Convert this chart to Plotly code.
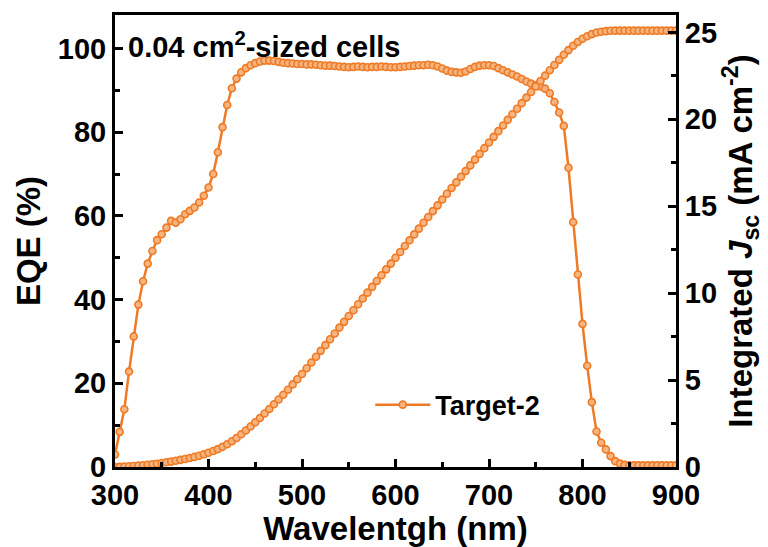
import plotly.graph_objects as go

# Wavelength grid (nm), 5 nm steps from 300 to 900
wavelength = list(range(300, 905, 5))

# External quantum efficiency (%)
eqe = [
    3.0, 8.4, 13.8, 22.8, 31.2, 38.8, 44.4, 48.6, 51.6, 54.2,      # 300-345
    55.6, 57.2, 58.8, 58.4, 59.2, 60.4, 61.2, 62.0, 63.2, 64.8,    # 350-395
    66.8, 70.0, 75.2, 81.2, 86.5, 90.5, 92.8, 94.3, 95.3, 96.0,    # 400-445
    96.5, 96.9, 97.1, 97.1, 97.0, 96.8, 96.6, 96.5, 96.4, 96.3,    # 450-495
    96.3, 96.2, 96.2, 96.1, 96.0, 95.9, 95.9, 95.8, 95.7, 95.6,    # 500-545
    95.5, 95.6, 95.7, 95.6, 95.5, 95.6, 95.6, 95.7, 95.6, 95.5,    # 550-595
    95.5, 95.6, 95.7, 95.8, 95.9, 96.0, 96.0, 96.1, 96.0, 95.7,    # 600-645
    95.2, 94.7, 94.4, 94.3, 94.2, 94.5, 95.1, 95.6, 95.9, 96.0,    # 650-695
    96.0, 95.8, 95.3, 94.8, 94.3, 93.8, 93.3, 92.7, 92.1, 91.6,    # 700-745
    91.2, 90.9, 90.4, 89.3, 87.2, 84.7, 81.5, 71.5, 58.5, 46.0,    # 750-795
    34.2, 24.2, 15.5, 8.5, 5.8, 4.2, 2.6, 1.4, 0.8, 0.5,           # 800-845
    0.4, 0.4, 0.4, 0.4, 0.4, 0.4, 0.4, 0.4, 0.4, 0.4,              # 850-895
    0.4,                                                           # 900
]

# Integrated short-circuit current density (mA cm^-2)
jsc = [
    0.00, 0.01, 0.02, 0.04, 0.06, 0.08, 0.10, 0.13, 0.16, 0.19,
    0.23, 0.27, 0.31, 0.36, 0.41, 0.46, 0.52, 0.58, 0.65, 0.73,
    0.82, 0.92, 1.03, 1.16, 1.31, 1.48, 1.67, 1.88, 2.10, 2.33,
    2.57, 2.82, 3.08, 3.34, 3.61, 3.88, 4.16, 4.44, 4.75, 5.05,
    5.35, 5.68, 6.01, 6.34, 6.68, 7.01, 7.35, 7.68, 8.02, 8.35,
    8.69, 9.02, 9.36, 9.69, 10.03, 10.36, 10.70, 11.03, 11.37, 11.70,
    12.04, 12.37, 12.71, 13.04, 13.38, 13.71, 14.05, 14.38, 14.72, 15.05,
    15.39, 15.72, 16.05, 16.37, 16.70, 17.02, 17.35, 17.68, 18.01, 18.34,
    18.67, 18.99, 19.32, 19.64, 19.97, 20.29, 20.61, 20.93, 21.25, 21.57,
    21.89, 22.20, 22.51, 22.82, 23.12, 23.42, 23.71, 23.98, 24.23, 24.45,
    24.63, 24.78, 24.90, 24.99, 25.04, 25.07, 25.09, 25.10, 25.10, 25.10,
    25.10, 25.10, 25.10, 25.10, 25.10, 25.10, 25.10, 25.10, 25.10, 25.10,
    25.10,
]

series_name = "Target-2"
ORANGE = "#EE7A26"
LIGHT = "#F7B47E"
FONT = "Liberation Sans"

marker = dict(symbol="circle", size=7, color=LIGHT, line=dict(color=ORANGE, width=1.6))

fig = go.Figure()
fig.add_trace(go.Scatter(
    x=wavelength, y=eqe, name=series_name, mode="lines+markers",
    line=dict(color=ORANGE, width=2.5), marker=marker, yaxis="y",
))
fig.add_trace(go.Scatter(
    x=wavelength, y=jsc, name=series_name, mode="lines+markers",
    line=dict(color=ORANGE, width=2.5), marker=marker, yaxis="y2",
    showlegend=False,
))

tickfont = dict(family=FONT, size=29, color="black", weight="bold")
titlefont = dict(family=FONT, size=33, color="black", weight="bold")

fig.update_layout(
    width=768, height=547,
    margin=dict(l=115, r=92, t=15, b=80),
    paper_bgcolor="white", plot_bgcolor="white",
    font=dict(family=FONT, color="black"),
    xaxis=dict(
        range=[300, 900], tickvals=[300, 400, 500, 600, 700, 800, 900],
        showline=True, linecolor="black", linewidth=3, mirror=True,
        ticks="inside", ticklen=8, tickwidth=3, tickcolor="black",
        minor=dict(ticks="inside", ticklen=5, tickwidth=2.5, dtick=50, tickcolor="black"),
        showgrid=False, zeroline=False, tickfont=tickfont,
        title=dict(text="Wavelentgh (nm)", font=titlefont, standoff=2),
    ),
    yaxis=dict(
        range=[0, 108], tickvals=[0, 20, 40, 60, 80, 100],
        showline=True, linecolor="black", linewidth=3,
        ticks="inside", ticklen=8, tickwidth=3, tickcolor="black",
        minor=dict(ticks="inside", ticklen=5, tickwidth=2.5, dtick=10, tickcolor="black"),
        showgrid=False, zeroline=False, tickfont=tickfont,
        title=dict(text="EQE (%)", font=titlefont, standoff=8),
    ),
    yaxis2=dict(
        range=[0, 26], tickvals=[0, 5, 10, 15, 20, 25],
        overlaying="y", side="right",
        showline=True, linecolor="black", linewidth=3,
        ticks="inside", ticklen=8, tickwidth=3, tickcolor="black",
        minor=dict(ticks="inside", ticklen=5, tickwidth=2.5, dtick=2.5, tickcolor="black"),
        showgrid=False, zeroline=False, tickfont=tickfont,
        title=dict(text="Integrated <i>J</i><sub>sc</sub> (mA cm<sup>-2</sup>)",
                   font=titlefont, standoff=6),
    ),
    legend=dict(
        x=0.455, y=0.137, xanchor="left", yanchor="middle",
        bgcolor="rgba(0,0,0,0)", borderwidth=0,
        font=dict(family=FONT, size=27, color="black", weight="bold"),
        itemwidth=55,
    ),
    annotations=[dict(
        x=0.02, y=0.934, xref="paper", yref="paper", xanchor="left", yanchor="middle",
        text="0.04 cm<sup>2</sup>-sized cells", showarrow=False,
        font=dict(family=FONT, size=29, color="black", weight="bold"),
    )],
)

fig.write_html("out.html")
